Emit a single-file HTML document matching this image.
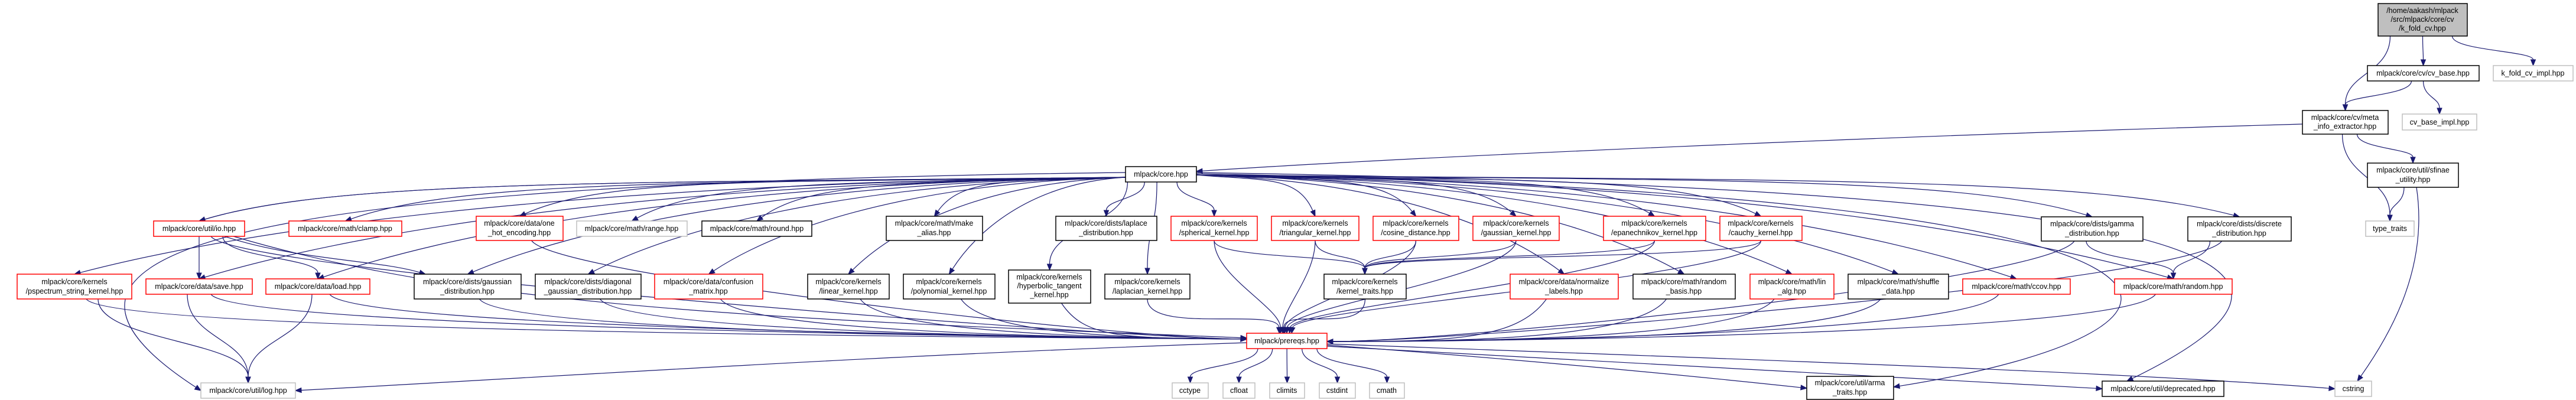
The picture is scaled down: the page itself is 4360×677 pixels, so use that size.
<!DOCTYPE html>
<html><head><meta charset="utf-8"><style>
html,body{margin:0;padding:0;background:#fff;}
svg{display:block;}
text{font-family:"Liberation Sans",sans-serif;font-size:12.5px;fill:#000;text-anchor:middle;}
</style></head><body>
<svg id="g" width="4360" height="677" viewBox="0 0 4360 677" xmlns="http://www.w3.org/2000/svg">
<g id="edges" fill="none" stroke="#191970" stroke-width="1.2"></g>
<g id="heads" fill="#191970" stroke="#191970"></g>
<g id="nodes" stroke-width="1.5">
<rect x="4025" y="6" width="151" height="55" fill="#bfbfbf" stroke="#000"/>
<text x="4100" y="22">/home/aakash/mlpack</text><text x="4100" y="37">/src/mlpack/core/cv</text><text x="4100" y="52">/k_fold_cv.hpp</text>
<rect x="4007" y="111" width="189" height="26" fill="#fff" stroke="#000"/><text x="4101" y="128">mlpack/core/cv/cv_base.hpp</text>
<rect x="4220" y="111" width="135" height="26" fill="#fff" stroke="#bfbfbf"/><text x="4287" y="128">k_fold_cv_impl.hpp</text>
<rect x="3897" y="187" width="145" height="40" fill="#fff" stroke="#000"/><text x="3969" y="203">mlpack/core/cv/meta</text><text x="3969" y="218">_info_extractor.hpp</text>
<rect x="4066" y="193" width="126" height="27" fill="#fff" stroke="#bfbfbf"/><text x="4129" y="211">cv_base_impl.hpp</text>
<rect x="4007" y="276" width="154" height="41" fill="#fff" stroke="#000"/><text x="4084" y="292">mlpack/core/util/sfinae</text><text x="4084" y="308">_utility.hpp</text>
<rect x="4004" y="374" width="82" height="26" fill="#fff" stroke="#bfbfbf"/><text x="4045" y="391">type_traits</text>
<rect x="1905" y="282" width="120" height="26" fill="#fff" stroke="#000"/><text x="1965" y="299">mlpack/core.hpp</text>
<rect x="260" y="374" width="154" height="26" fill="#fff" stroke="#f00"/><text x="337" y="391">mlpack/core/util/io.hpp</text>
<rect x="489" y="374" width="191" height="26" fill="#fff" stroke="#f00"/><text x="584" y="391">mlpack/core/math/clamp.hpp</text>
<rect x="806" y="366" width="147" height="41" fill="#fff" stroke="#f00"/><text x="879" y="382">mlpack/core/data/one</text><text x="879" y="398">_hot_encoding.hpp</text>
<rect x="976" y="374" width="187" height="26" fill="#fff" stroke="#bfbfbf"/><text x="1069" y="391">mlpack/core/math/range.hpp</text>
<rect x="1188" y="374" width="186" height="26" fill="#fff" stroke="#000"/><text x="1281" y="391">mlpack/core/math/round.hpp</text>
<rect x="1500" y="366" width="163" height="41" fill="#fff" stroke="#000"/><text x="1581" y="382">mlpack/core/math/make</text><text x="1581" y="398">_alias.hpp</text>
<rect x="1787" y="366" width="171" height="41" fill="#fff" stroke="#000"/><text x="1872" y="382">mlpack/core/dists/laplace</text><text x="1872" y="398">_distribution.hpp</text>
<rect x="1982" y="366" width="146" height="41" fill="#fff" stroke="#f00"/><text x="2055" y="382">mlpack/core/kernels</text><text x="2055" y="398">/spherical_kernel.hpp</text>
<rect x="2152" y="366" width="148" height="41" fill="#fff" stroke="#f00"/><text x="2226" y="382">mlpack/core/kernels</text><text x="2226" y="398">/triangular_kernel.hpp</text>
<rect x="2324" y="366" width="145" height="41" fill="#fff" stroke="#f00"/><text x="2396" y="382">mlpack/core/kernels</text><text x="2396" y="398">/cosine_distance.hpp</text>
<rect x="2493" y="366" width="146" height="41" fill="#fff" stroke="#f00"/><text x="2566" y="382">mlpack/core/kernels</text><text x="2566" y="398">/gaussian_kernel.hpp</text>
<rect x="2714" y="366" width="173" height="41" fill="#fff" stroke="#f00"/><text x="2800" y="382">mlpack/core/kernels</text><text x="2800" y="398">/epanechnikov_kernel.hpp</text>
<rect x="2911" y="366" width="139" height="41" fill="#fff" stroke="#f00"/><text x="2980" y="382">mlpack/core/kernels</text><text x="2980" y="398">/cauchy_kernel.hpp</text>
<rect x="29" y="464" width="194" height="42" fill="#fff" stroke="#f00"/><text x="126" y="481">mlpack/core/kernels</text><text x="126" y="497">/pspectrum_string_kernel.hpp</text>
<rect x="247" y="472" width="180" height="26" fill="#fff" stroke="#f00"/><text x="337" y="489">mlpack/core/data/save.hpp</text>
<rect x="450" y="472" width="176" height="26" fill="#fff" stroke="#f00"/><text x="538" y="489">mlpack/core/data/load.hpp</text>
<rect x="701" y="464" width="181" height="42" fill="#fff" stroke="#000"/><text x="791" y="481">mlpack/core/dists/gaussian</text><text x="791" y="497">_distribution.hpp</text>
<rect x="906" y="464" width="179" height="42" fill="#fff" stroke="#000"/><text x="995" y="481">mlpack/core/dists/diagonal</text><text x="995" y="497">_gaussian_distribution.hpp</text>
<rect x="1108" y="464" width="183" height="42" fill="#fff" stroke="#f00"/><text x="1199" y="481">mlpack/core/data/confusion</text><text x="1199" y="497">_matrix.hpp</text>
<rect x="1367" y="464" width="138" height="42" fill="#fff" stroke="#000"/><text x="1436" y="481">mlpack/core/kernels</text><text x="1436" y="497">/linear_kernel.hpp</text>
<rect x="1529" y="464" width="155" height="42" fill="#fff" stroke="#000"/><text x="1606" y="481">mlpack/core/kernels</text><text x="1606" y="497">/polynomial_kernel.hpp</text>
<rect x="1707" y="457" width="139" height="56" fill="#fff" stroke="#000"/><text x="1776" y="473">mlpack/core/kernels</text><text x="1776" y="488">/hyperbolic_tangent</text><text x="1776" y="503">_kernel.hpp</text>
<rect x="1870" y="464" width="144" height="42" fill="#fff" stroke="#000"/><text x="1942" y="481">mlpack/core/kernels</text><text x="1942" y="497">/laplacian_kernel.hpp</text>
<rect x="2241" y="464" width="139" height="42" fill="#fff" stroke="#000"/><text x="2310" y="481">mlpack/core/kernels</text><text x="2310" y="497">/kernel_traits.hpp</text>
<rect x="2556" y="464" width="183" height="42" fill="#fff" stroke="#f00"/><text x="2647" y="481">mlpack/core/data/normalize</text><text x="2647" y="497">_labels.hpp</text>
<rect x="2764" y="464" width="173" height="42" fill="#fff" stroke="#000"/><text x="2850" y="481">mlpack/core/math/random</text><text x="2850" y="497">_basis.hpp</text>
<rect x="2962" y="464" width="142" height="42" fill="#fff" stroke="#f00"/><text x="3033" y="481">mlpack/core/math/lin</text><text x="3033" y="497">_alg.hpp</text>
<rect x="3128" y="464" width="170" height="42" fill="#fff" stroke="#000"/><text x="3213" y="481">mlpack/core/math/shuffle</text><text x="3213" y="497">_data.hpp</text>
<rect x="3455" y="367" width="172" height="41" fill="#fff" stroke="#000"/><text x="3541" y="383">mlpack/core/dists/gamma</text><text x="3541" y="399">_distribution.hpp</text>
<rect x="3703" y="367" width="175" height="41" fill="#fff" stroke="#000"/><text x="3790" y="383">mlpack/core/dists/discrete</text><text x="3790" y="399">_distribution.hpp</text>
<rect x="3322" y="472" width="182" height="26" fill="#fff" stroke="#f00"/><text x="3413" y="489">mlpack/core/math/ccov.hpp</text>
<rect x="3579" y="472" width="199" height="26" fill="#fff" stroke="#f00"/><text x="3678" y="489">mlpack/core/math/random.hpp</text>
<rect x="2110" y="564" width="136" height="26" fill="#fff" stroke="#f00"/><text x="2178" y="581">mlpack/prereqs.hpp</text>
<rect x="340" y="648" width="160" height="26" fill="#fff" stroke="#bfbfbf"/><text x="420" y="665">mlpack/core/util/log.hpp</text>
<rect x="1984" y="648" width="61" height="26" fill="#fff" stroke="#bfbfbf"/><text x="2014" y="665">cctype</text>
<rect x="2070" y="648" width="54" height="26" fill="#fff" stroke="#bfbfbf"/><text x="2097" y="665">cfloat</text>
<rect x="2149" y="648" width="59" height="26" fill="#fff" stroke="#bfbfbf"/><text x="2178" y="665">climits</text>
<rect x="2233" y="648" width="61" height="26" fill="#fff" stroke="#bfbfbf"/><text x="2263" y="665">cstdint</text>
<rect x="2318" y="648" width="59" height="26" fill="#fff" stroke="#bfbfbf"/><text x="2347" y="665">cmath</text>
<rect x="3058" y="637" width="147" height="39" fill="#fff" stroke="#000"/><text x="3131" y="652">mlpack/core/util/arma</text><text x="3131" y="668">_traits.hpp</text>
<rect x="3558" y="645" width="206" height="26" fill="#fff" stroke="#000"/><text x="3661" y="662">mlpack/core/util/deprecated.hpp</text>
<rect x="3952" y="645" width="62" height="26" fill="#fff" stroke="#bfbfbf"/><text x="3983" y="662">cstring</text>
</g>
</svg>
<script>
var N={kfold:[4025,4176,6,61],cvbase:[4007,4196,111,137],kimpl:[4220,4355,111,137],meta:[3897,4042,187,227],cvimpl:[4066,4192,193,220],sfinae:[4007,4161,276,317],tt:[4004,4086,374,400],core:[1905,2025,282,308],io:[260,414,374,400],clamp:[489,680,374,400],onehot:[806,953,366,407],range:[976,1163,374,400],round:[1188,1374,374,400],alias:[1500,1663,366,407],laplace:[1787,1958,366,407],sph:[1982,2128,366,407],tri:[2152,2300,366,407],cos:[2324,2469,366,407],gk:[2493,2639,366,407],epa:[2714,2887,366,407],cau:[2911,3050,366,407],psp:[29,223,464,506],save:[247,427,472,498],load:[450,626,472,498],gd:[701,882,464,506],dgd:[906,1085,464,506],conf:[1108,1291,464,506],lin:[1367,1505,464,506],poly:[1529,1684,464,506],hyp:[1707,1846,457,513],lap:[1870,2014,464,506],kt:[2241,2380,464,506],norm:[2556,2739,464,506],rb:[2764,2937,464,506],la:[2962,3104,464,506],sh:[3128,3298,464,506],gam:[3455,3627,367,408],disc:[3703,3878,367,408],ccov:[3322,3504,472,498],rand:[3579,3778,472,498],pre:[2110,2246,564,590],log:[340,500,648,674],cctype:[1984,2045,648,674],cfloat:[2070,2124,648,674],climits:[2149,2208,648,674],cstdint:[2233,2294,648,674],cmath:[2318,2377,648,674],arma:[3058,3205,637,676],dep:[3558,3764,645,671],cstring:[3952,4014,645,671]};
var E=document.getElementById('edges'),H=document.getElementById('heads'),NS='http://www.w3.org/2000/svg';
function cx(n){return (N[n][0]+N[n][1])/2}
function draw(p){
 var dx=p[6]-p[4],dy=p[7]-p[5],L=Math.hypot(dx,dy)||1;dx/=L;dy/=L;
 var ex=p[6]-dx*10,ey=p[7]-dy*10;
 var pa=document.createElementNS(NS,'path');pa.setAttribute('d','M'+p[0]+','+p[1]+' C'+p[2]+','+p[3]+' '+p[4]+','+p[5]+' '+ex+','+ey);E.appendChild(pa);
 var h=document.createElementNS(NS,'polygon');
 h.setAttribute('points',p[6]+','+p[7]+' '+(ex-dy*4)+','+(ey+dx*4)+' '+(ex+dy*4)+','+(ey-dx*4));H.appendChild(h);
}
function down(a,b,ox){ox=ox||0;var s=N[a],t=N[b];var sx=cx(a)+ox,sy=s[3],tx=cx(b),ty=t[2];var m=(ty-sy)*0.5;draw([sx,sy,sx,sy+m,tx,ty-m,tx,ty]);}
down('kfold','meta',-55);down('kfold','cvbase');down('kfold','kimpl',50);
down('cvbase','meta',-20);down('cvbase','cvimpl',0);
down('meta','sfinae',20);down('meta','tt',-5);down('sfinae','tt',-15);
draw([4090,317,4110,450,4050,560,3990,645]);
draw([3897,210,3200,230,2400,265,2025,290]);
function fromCore(b){var t=N[b],tx=cx(b),ty=t[2];
 if(Math.abs(tx-1965)<250){down('core',b,(tx-1965)*0.3);return;}
 var sx=tx<1965?1905:2025,sy=tx<1965?300:296;
 draw([sx,sy,sx+(tx-sx)*0.55,sy+10,tx+(sx-tx)*0.15,ty-70,tx,ty]);}
['io','clamp','onehot','range','round','alias','laplace','sph','tri','cos','gk','epa','cau','psp','save','load','gd','dgd','conf','lin','poly','hyp','lap','norm','rb','la','sh','gam','disc','ccov','rand'].forEach(function(n){fromCore(n)});
fromCore('io');
draw([1905,292,400,310,-30,420,340,661]);
draw([2025,292,3800,320,4000,450,3600,645]);
draw([2025,294,3900,330,3800,560,3205,655]);
down('io','save');down('io','load',40);draw([380,400,500,440,640,440,720,464]);draw([395,400,800,520,1300,540,2110,572]);
down('save','log',-20);down('load','log',-10);down('psp','log',40);
['cos','gk','epa','cau','sph','tri'].forEach(function(n){var s=N[n];draw([cx(n),s[3],cx(n),440,2310,430,2310,464]);});
['psp','save','load','gd','dgd','conf','onehot','io','lin','poly','hyp'].forEach(function(n){var s=N[n];draw([cx(n)+20,s[3],cx(n)+60,s[3]+60,1900,572,2110,574]);});
['lap','sph','tri','cos','gk','kt','epa','cau'].forEach(function(n){var s=N[n];var sx=cx(n);draw([sx,s[3],sx,s[3]+60,2170+(sx-2178)*0.03,520,2170+(sx-2178)*0.02,564]);});
['norm','rb','la','sh','ccov','rand','gam','disc'].forEach(function(n){var s=N[n];draw([cx(n)-30,s[3],cx(n)-80,s[3]+70,2450,578,2246,578]);});
down('gam','rand',-10);down('disc','rand',-50);
draw([2110,580,1500,600,900,640,500,661]);
['cctype','cfloat','climits','cstdint','cmath'].forEach(function(n){down('pre',n,(cx(n)-2178)*0.3);});
draw([2246,584,2600,610,2900,640,3058,657]);
draw([2246,586,2900,620,3300,640,3558,658]);
draw([2246,582,3000,610,3600,630,3952,658]);
</script>
</body></html>
